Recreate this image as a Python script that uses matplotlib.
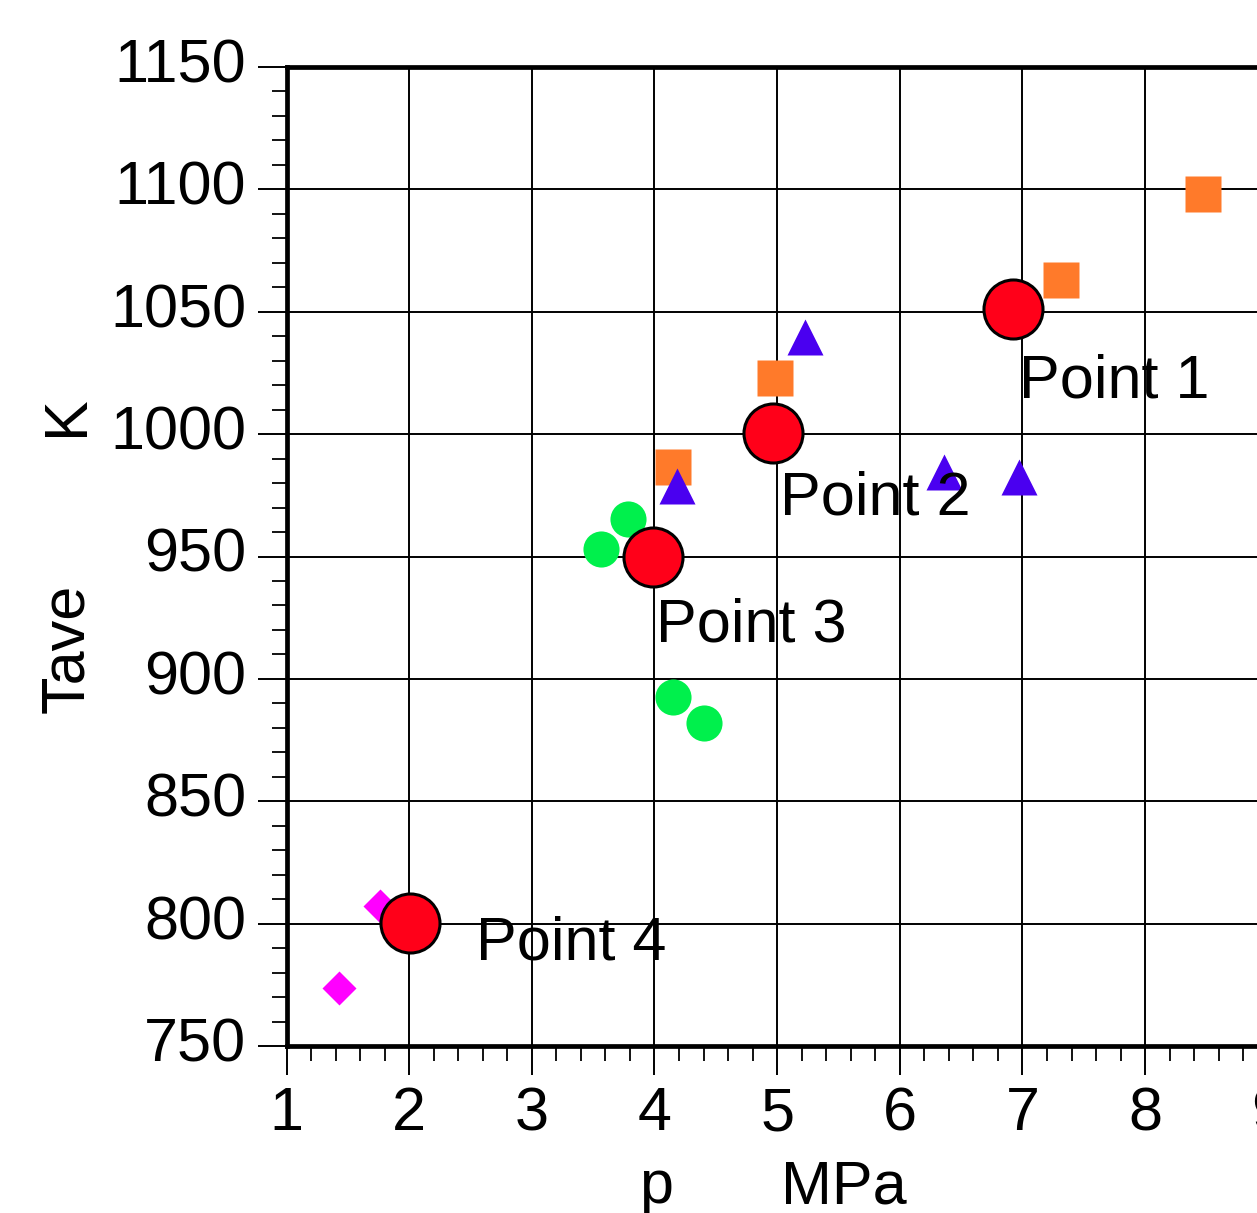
import matplotlib
matplotlib.use('Agg')
import matplotlib.pyplot as plt
from matplotlib.ticker import MultipleLocator

plt.rcParams['font.family'] = ['Liberation Sans', 'DejaVu Sans']

# operating points (big red circles)
pt_p = [6.92, 4.97, 3.99, 2.01]
pt_T = [1051.0, 1000.5, 950.0, 800.3]
pt_names = ['Point 1', 'Point 2', 'Point 3', 'Point 4']
# where each label sits (left edge / baseline, data units)
lab_p = [6.97, 5.02, 4.01, 2.545]
lab_T = [1014.8, 967.0, 915.2, 785.3]

# other series
sq_p = [8.47, 7.31, 4.98, 4.15]
sq_T = [1098.0, 1062.8, 1022.8, 986.5]

tri_p = [5.23, 6.36, 6.97, 4.18]
tri_T = [1039.8, 984.6, 982.6, 978.9]

grn_p = [3.78, 3.56, 4.15, 4.40]
grn_T = [965.4, 952.9, 892.7, 881.8]

dia_p = [1.76, 1.425]
dia_T = [807.3, 773.6]

W, H = 1257, 1213
fig = plt.figure(figsize=(W / 100, H / 100), dpi=100)
# axes runs past the right edge of the picture, like the original
ax = fig.add_axes([286.5 / W, 167 / H, (1267.8 - 286.5) / W, 979 / H])
ax.set_xlim(1, 9)
ax.set_ylim(750, 1150)

ax.xaxis.set_major_locator(MultipleLocator(1))
ax.xaxis.set_minor_locator(MultipleLocator(0.2))
ax.yaxis.set_major_locator(MultipleLocator(50))
ax.yaxis.set_minor_locator(MultipleLocator(10))

ax.grid(True, which='major', color='black', lw=1.4, zorder=0)
ax.set_axisbelow(True)

ax.tick_params(which='major', direction='out', length=21, width=1.4,
               labelsize=44, pad=8)
ax.tick_params(which='minor', direction='out', length=10.5, width=1.3)
for lbl in ax.get_yticklabels():
    lbl.set_va('center')
for side in ['left', 'bottom', 'top', 'right']:
    ax.spines[side].set_linewidth(3.4)

ax.plot(sq_p, sq_T, 's', ms=26, color='#ff7a2a', mec='none', zorder=3)
ax.plot(tri_p, tri_T, '^', ms=26, color='#4a00f0', mec='none', zorder=4)
ax.plot(grn_p, grn_T, 'o', ms=26, color='#00f04c', mec='none', zorder=3)
ax.plot(dia_p, dia_T, 'D', ms=17.3, color='#ff00ff', mec='none', zorder=3)
ax.plot(pt_p, pt_T, 'o', ms=42.5, color='#ff0019', mec='black', mew=2.2,
        zorder=5)

for name, x, y in zip(pt_names, lab_p, lab_T):
    ax.text(x, y, name, fontsize=44, ha='left', va='baseline', zorder=6)

# axis titles: name and unit set apart
fig.text(639 / W, 1 - 1203 / H, 'p', fontsize=44, ha='left', va='baseline')
fig.text(780.5 / W, 1 - 1203 / H, 'MPa', fontsize=44, ha='left',
         va='baseline')
fig.text(82.7 / W, 1 - 648 / H, 'Tave', fontsize=44, rotation=90,
         rotation_mode='anchor', ha='center', va='baseline')
fig.text(82.7 / W, 1 - 416 / H, 'K', fontsize=44, rotation=90,
         rotation_mode='anchor', ha='center', va='baseline')

fig.savefig('out.png', dpi=100)
